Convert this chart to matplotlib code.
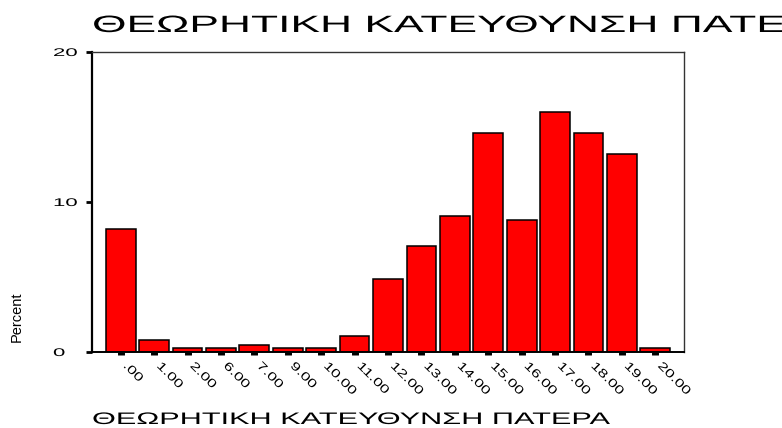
import numpy as np
import matplotlib
matplotlib.use("Agg")
import matplotlib.pyplot as plt
import matplotlib.patheffects as pe
from matplotlib.transforms import Affine2D, ScaledTranslation

plt.rcParams['font.family'] = ['Liberation Sans', 'DejaVu Sans']

# data (percent of cases per score)
categories = ['.00', '1.00', '2.00', '6.00', '7.00', '9.00', '10.00', '11.00', '12.00',
              '13.00', '14.00', '15.00', '16.00', '17.00', '18.00', '19.00', '20.00']
percent = [8.2, 0.8, 0.3, 0.3, 0.5, 0.3, 0.3, 1.1, 4.9,
           7.1, 9.1, 14.6, 8.8, 16.0, 14.6, 13.2, 0.3]
yticks = [0, 10, 20]
title = 'ΘΕΩΡΗΤΙΚΗ ΚΑΤΕΥΘΥΝΣΗ ΠΑΤΕΡΑ'


class Stretch(pe.AbstractPathEffect):
    # widen the glyphs along the text direction (old SPSS output uses wide type)
    def __init__(self, sx):
        super().__init__()
        self.sx = sx

    def draw_path(self, renderer, gc, tpath, affine, rgbFace=None):
        renderer.draw_path(gc, tpath, Affine2D().scale(self.sx, 1) + affine, rgbFace)


W, H = 782, 428
fig = plt.figure(figsize=(W / 100, H / 100), dpi=100)
ax = fig.add_axes([92 / W, 1 - 352 / H, (684 - 92) / W, 300 / H])

x = np.arange(len(categories))
ax.bar(x, percent, width=0.89, color='#ff0000', edgecolor='black', linewidth=1.1)

ax.set_xlim(-0.86, len(categories) - 1 + 0.86)
ax.set_ylim(0, 20)

ax.spines['left'].set_linewidth(1.6)
ax.spines['bottom'].set_linewidth(1.4)
ax.spines['top'].set_linewidth(1.0)
ax.spines['right'].set_linewidth(1.0)
ax.spines['top'].set_color('#333333')
ax.spines['right'].set_color('#333333')

# y axis
ax.set_yticks(yticks)
ax.set_yticklabels([str(v) for v in yticks])
ax.tick_params(axis='y', direction='out', length=4.5, width=2, pad=23.6, labelsize=8)
for t in ax.get_yticklabels():
    t.set_ha('left')
    t.set_path_effects([Stretch(2.0)])

# x axis
ax.set_xticks(x)
ax.set_xticklabels(categories)
ax.tick_params(axis='x', direction='out', length=2.2, width=5, pad=3.5, labelsize=8.5)
shift = ScaledTranslation(6 / 72, 0, fig.dpi_scale_trans)
for t in ax.get_xticklabels():
    t.set_rotation(-45)
    t.set_rotation_mode('anchor')
    t.set_ha('left')
    t.set_va('top')
    t.set_transform(t.get_transform() + shift)
    t.set_path_effects([Stretch(1.4)])

fig.text(92 / W, 1 - 32 / H, title, ha='left', va='baseline', fontsize=17,
         path_effects=[Stretch(1.88)])
fig.text(92 / W, 1 - 424 / H, title, ha='left', va='baseline', fontsize=12,
         path_effects=[Stretch(1.84)])
fig.text(17 / W, 1 - 317 / H, 'Percent', rotation=90, ha='center', va='center',
         fontsize=10.5)

fig.savefig('out.png', dpi=100)
